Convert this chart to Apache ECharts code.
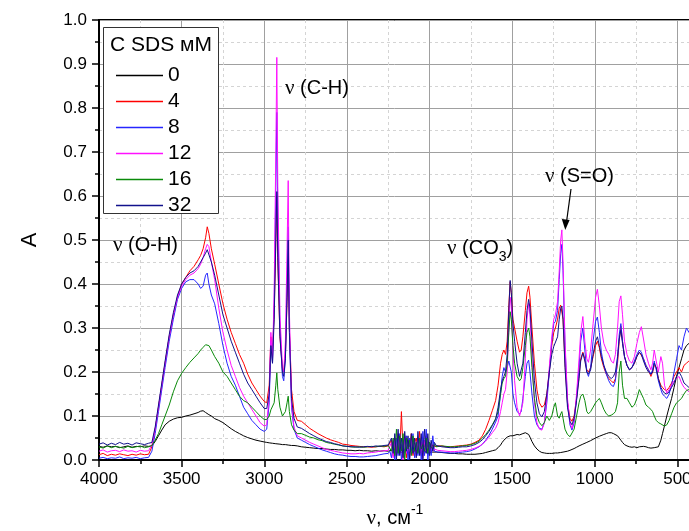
<!DOCTYPE html>
<html><head><meta charset="utf-8">
<script src="https://cdn.jsdelivr.net/npm/echarts@6/dist/echarts.min.js"></script>
<style>html,body{margin:0;padding:0;background:#fff}#c{width:689px;height:531px}</style>
</head><body><div id="c"></div>
<script>
// Wavenumber grid (cm^-1)
const nu = [
 4000,3975,3950,3925,3900,3875,3850,3825,3800,3775,3750,3725,3700,
 3680,3660,3640,3620,3600,3575,3550,3525, 3500,3475,3450,3425,3400,3385,3370,3355,
 3345,3335,3320,3300,3275,3250,3225,3200, 3175,3150,3125,3100,3075,3050,3025,3000,
 2985,2970,2960,2950,2940,2930,2924,2918,2905,2890,2882,2872,2862,2855,2848,2835,2820,2800,
 2775,2750,2725,2700,2675,2650,2625,2600,2575,2550,2525,2500,2475,2450,2425,2400,2375,2350,2325,2300,2275,2250,
 2240,2230,2220,2210,2200,2190,2180,2170,2160,2150, 2140,2130,2120,2110,2100,2090,2080,2070,2060,2050,
 2040,2030,2020,2010,2000,1990,1980,1970,1960,1950,
 1925,1900,1875,1850,1825,1800,1775,1750,1725,1700,1680,1660,1640,1620,1600,
 1585,1570,1560,1550,1540,1530,1520,1512,1505,1495,
 1485,1470,1455,1445,1435,1420,1410,1400,1392,1380,
 1365,1350,1335,1320,1305,1290,1275,1260,1248,1238,
 1225,1215,1206,1199,1192,1180,1165,1150,1138,1125,
 1110,1095,1085,1072,1060,1048,1038,1025,1010,995,
 984,972,960,945,930,915,900,887,875,862,
 852,842,832,820,805,790,775,760,745,730,
 718,705,690,675,660,650,640,628,615,600,
 590,578,564,550,535,520,505,490,475,460,
 445,430,415,400
];

// C SDS = 0 mM (black)
const sds0 = [
 .031,.029,.032,.030,.031,.028,.030,.032,.029,.031,.030,.032,.031,
 .032,.042,.055,.068,.08,.088,.093,.096, .097,.10,.102,.105,.108,.111,.112,.108,
 .106,.103,.10,.094,.09,.085,.078,.071, .065,.06,.055,.051,.048,.045,.043,.041,
 .04,.039,.038,.038,.037,.037,.036,.036,.036,.035,.035,.035,.034,.034,.034,.033,.033,.032,
 .03,.029,.028,.027,.026,.026,.025,.024,.024,.023,.023,.022,.022,.021,.022,.021,.021,.02,.021,.02,.021,.02,
 .02,.022,.018,.025,.015,.024,.019,.022,.016,.025, .018,.021,.017,.023,.019,.02,.018,.022,.017,.021,
 .02,.019,.018,.02,.017,.019,.018,.017,.018,.017,
 .017,.016,.015,.015,.014,.014,.013,.013,.013,.014,.015,.017,.019,.021,.023,
 .028,.034,.04,.045,.048,.052,.054,.055,.056,.055,
 .056,.058,.057,.058,.06,.062,.063,.058,.052,.042,
 .032,.025,.02,.017,.016,.015,.015,.015,.016,.016,
 .016,.017,.017,.018,.018,.019,.02,.022,.024,.026,
 .029,.032,.034,.036,.038,.04,.042,.044,.047,.05,
 .052,.054,.056,.058,.06,.062,.062,.06,.058,.055,
 .05,.045,.04,.035,.032,.03,.029,.03,.028,.03,
 .029,.031,.03,.028,.027,.028,.028,.028,.03,.045,
 .06,.078,.1,.12,.14,.165,.19,.21,.23,.25,
 .26,.265,.27,.27
];

// C SDS = 4 mM (red)
const sds4 = [
 .012,.015,.010,.013,.011,.014,.012,.010,.013,.011,.014,.012,.013,
 .03,.07,.12,.17,.22,.28,.33,.37, .40,.415,.43,.44,.455,.465,.48,.505,
 .53,.515,.48,.445,.40,.355,.32,.29, .265,.24,.22,.195,.175,.16,.145,.133,
 .13,.17,.28,.25,.33,.50,.60,.45,.28,.21,.20,.24,.36,.45,.30,.16,.11,.09,
 .088,.08,.072,.066,.06,.055,.05,.046,.043,.04,.036,.035,.033,.032,.031,.03,.03,.029,.03,.031,.03,.032,
 .03,.045,.01,.05,.02,.06,.015,.11,.02,.055, .005,.045,.03,.06,.01,.04,.05,.02,.065,.01,
 .045,.03,.055,.02,.04,.025,.035,.03,.03,.032,
 .032,.03,.03,.031,.032,.033,.034,.036,.04,.045,.055,.07,.09,.112,.135,
 .17,.22,.24,.25,.24,.27,.35,.405,.38,.32,
 .30,.27,.245,.25,.28,.34,.38,.395,.37,.30,
 .22,.16,.13,.12,.125,.15,.20,.26,.29,.30,
 .32,.345,.352,.35,.32,.22,.13,.095,.088,.10,
 .14,.19,.23,.245,.23,.205,.20,.21,.235,.26,
 .27,.255,.23,.21,.195,.185,.18,.175,.185,.22,
 .27,.305,.27,.235,.215,.205,.21,.22,.235,.245,
 .245,.23,.215,.205,.19,.2,.215,.21,.185,.17,
 .165,.16,.158,.165,.175,.19,.2,.21,.2,.215,
 .22,.225,.23,.235
];

// C SDS = 8 mM (blue)
const sds8 = [
 .004,.006,.003,.005,.004,.007,.003,.005,.004,.006,.003,.005,.006,
 .02,.06,.11,.16,.21,.27,.32,.365, .39,.405,.41,.41,.40,.39,.395,.42,
 .425,.40,.375,.355,.31,.26,.22,.19, .17,.145,.12,.105,.09,.08,.07,.065,
 .07,.13,.27,.22,.35,.62,.79,.55,.30,.19,.18,.23,.40,.53,.30,.12,.07,.05,
 .045,.04,.035,.031,.027,.023,.02,.017,.014,.012,.011,.009,.008,.008,.007,.007,.008,.009,.01,.012,.014,.015,
 .02,.005,.04,.0,.05,.01,.06,.0,.045,.015, .055,.0,.05,.02,.06,.005,.04,.01,.05,.0,
 .065,.01,.07,.0,.04,.01,.055,.02,.02,.018,
 .018,.017,.016,.016,.017,.018,.019,.021,.025,.03,.036,.045,.056,.07,.086,
 .10,.15,.19,.21,.20,.21,.225,.227,.2,.15,
 .13,.11,.105,.11,.14,.19,.22,.227,.2,.15,
 .10,.08,.072,.07,.085,.13,.2,.27,.31,.315,
 .34,.41,.47,.49,.43,.26,.13,.08,.068,.085,
 .14,.21,.27,.30,.25,.2,.19,.21,.27,.315,
 .325,.29,.245,.215,.195,.18,.17,.167,.18,.23,
 .285,.31,.27,.235,.215,.205,.21,.225,.24,.25,
 .245,.23,.215,.205,.195,.205,.225,.205,.18,.16,
 .15,.145,.14,.15,.17,.2,.23,.26,.25,.28,
 .30,.29,.31,.30
];

// C SDS = 12 mM (magenta)
const sds12 = [
 .020,.023,.018,.021,.022,.019,.023,.020,.021,.018,.022,.020,.021,
 .035,.07,.12,.17,.22,.28,.33,.37, .395,.41,.42,.425,.435,.445,.46,.48,
 .49,.485,.45,.41,.345,.29,.25,.215, .19,.165,.145,.13,.115,.10,.085,.077,
 .08,.15,.29,.23,.38,.70,.915,.62,.33,.21,.20,.27,.48,.635,.34,.13,.075,.055,
 .05,.045,.04,.036,.032,.028,.024,.022,.02,.018,.016,.015,.014,.014,.015,.014,.016,.017,.018,.02,.021,.022,
 .025,.04,.005,.045,.01,.05,.02,.035,.0,.05, .015,.04,.005,.045,.02,.035,.01,.05,.015,.04,
 .005,.045,.02,.03,.015,.035,.02,.025,.022,.022,
 .021,.02,.019,.019,.02,.021,.022,.024,.027,.031,.036,.043,.052,.062,.072,
 .085,.11,.13,.15,.16,.2,.3,.37,.35,.25,
 .18,.12,.10,.10,.13,.23,.32,.356,.33,.23,
 .13,.085,.07,.068,.085,.14,.21,.28,.32,.33,
 .36,.43,.50,.523,.45,.27,.14,.085,.072,.09,
 .15,.23,.29,.326,.27,.23,.222,.25,.31,.37,
 .388,.35,.30,.265,.25,.24,.225,.22,.24,.30,
 .36,.373,.33,.27,.24,.225,.22,.235,.265,.29,
 .303,.275,.24,.22,.205,.22,.25,.225,.20,.235,
 .22,.17,.152,.16,.17,.18,.185,.19,.175,.165,
 .16,.155,.15,.15
];

// C SDS = 16 mM (green)
const sds16 = [
 .030,.027,.032,.028,.031,.029,.027,.031,.028,.030,.032,.028,.030,
 .033,.045,.06,.08,.10,.125,.155,.18, .197,.21,.222,.232,.242,.25,.256,.262,
 .264,.26,.25,.235,.22,.20,.19,.175, .16,.145,.135,.13,.12,.11,.10,.092,
 .092,.10,.114,.11,.13,.17,.198,.16,.12,.10,.098,.11,.13,.145,.11,.08,.068,.06,
 .06,.056,.052,.05,.046,.044,.04,.038,.036,.034,.032,.031,.03,.029,.03,.029,.03,.031,.03,.032,.031,.033,
 .035,.02,.05,.01,.07,.015,.055,.02,.06,.0, .05,.025,.045,.01,.055,.02,.04,.015,.05,.025,
 .035,.02,.05,.015,.04,.03,.025,.035,.03,.032,
 .032,.031,.03,.03,.031,.032,.033,.035,.038,.043,.05,.058,.068,.08,.094,
 .11,.15,.175,.185,.19,.22,.29,.337,.32,.26,
 .22,.19,.18,.185,.21,.26,.29,.30,.28,.21,
 .14,.10,.085,.078,.085,.10,.09,.10,.12,.13,
 .10,.095,.105,.11,.095,.07,.058,.053,.055,.07,
 .10,.13,.145,.15,.135,.11,.105,.11,.12,.13,
 .135,.14,.13,.115,.105,.10,.102,.105,.11,.13,
 .20,.225,.17,.14,.14,.13,.12,.125,.14,.16,
 .158,.14,.125,.12,.115,.11,.10,.09,.085,.082,
 .078,.077,.08,.09,.105,.12,.13,.135,.14,.15,
 .158,.16,.16,.16
];

// C SDS = 32 mM (navy)
const sds32 = [
 .036,.039,.034,.038,.035,.040,.036,.038,.034,.039,.037,.035,.038,
 .04,.075,.125,.175,.225,.285,.335,.375, .40,.415,.425,.43,.44,.45,.46,.47,
 .478,.475,.45,.42,.375,.33,.30,.27, .245,.22,.195,.175,.16,.145,.13,.117,
 .117,.15,.26,.22,.32,.50,.61,.46,.28,.20,.19,.23,.37,.50,.29,.14,.095,.075,
 .072,.066,.06,.055,.05,.046,.042,.04,.037,.035,.032,.031,.03,.03,.029,.03,.031,.03,.032,.031,.033,.034,
 .03,.05,.015,.06,.0,.07,.01,.05,.005,.065, .02,.055,.0,.06,.015,.05,.005,.065,.01,.06,
 .0,.07,.015,.06,.01,.045,.02,.04,.033,.032,
 .03,.029,.028,.028,.029,.03,.03,.032,.035,.04,.046,.055,.065,.078,.092,
 .12,.16,.18,.19,.20,.24,.34,.408,.38,.31,
 .27,.22,.19,.19,.22,.29,.34,.365,.345,.27,
 .18,.13,.105,.098,.11,.15,.20,.24,.258,.255,
 .28,.32,.345,.35,.32,.21,.12,.088,.08,.095,
 .135,.185,.225,.243,.225,.2,.195,.205,.24,.27,
 .28,.26,.235,.215,.2,.19,.185,.19,.2,.235,
 .275,.295,.265,.235,.215,.205,.21,.22,.235,.245,
 .24,.225,.21,.2,.195,.2,.22,.21,.185,.165,
 .158,.152,.15,.155,.165,.175,.19,.2,.19,.175,
 .17,.165,.17,.17
];

const seriesNames = ['0','4','8','12','16','32'];
const seriesValues = [sds0, sds4, sds8, sds12, sds16, sds32];
const seriesColors = ['#000000','#ff0000','#2626ff','#ff10ff','#0a8a0a','#12128c'];

const SANS = '"Liberation Sans", Arial, sans-serif';
const SERIF = '"Liberation Serif", "Times New Roman", serif';

const mctx = document.createElement('canvas').getContext('2d');
function tw(t, size, fam){ mctx.font = size + 'px ' + fam; return mctx.measureText(t).width; }

function run(x, yc, parts, z){
  const els = []; let cx = x;
  parts.forEach(p => {
    els.push({type:'text', x: cx, y: yc + (p.dy||0), z: z||10,
      style:{text:p.t, fontSize:p.s, fontFamily:p.f, fill:'#000', align:'left', verticalAlign:'middle'}});
    cx += tw(p.t, p.s, p.f);
  });
  return els;
}
function runWidth(parts){ return parts.reduce((a,p)=>a+tw(p.t,p.s,p.f),0); }

const graphics = [];
graphics.push({type:'rect', z:3, shape:{x:103.5, y:27.5, width:115, height:186},
  style:{fill:'#fff', stroke:'#333', lineWidth:1}});
graphics.push({type:'text', z:10, x:110, y:45,
  style:{text:'C SDS мМ', fontSize:21, fontFamily:SANS, fill:'#000', verticalAlign:'middle'}});
const nuPart = {t:'ν', s:21, f:SERIF};
graphics.push(...run(113, 245, [nuPart, {t:' (O-H)', s:20, f:SANS}]));
graphics.push(...run(285, 88, [nuPart, {t:' (C-H)', s:20, f:SANS}]));
graphics.push(...run(447, 248, [nuPart, {t:' (CO', s:20, f:SANS}, {t:'3', s:14, f:SANS, dy:9}, {t:')', s:20, f:SANS}]));
graphics.push(...run(545, 176, [nuPart, {t:' (S=O)', s:20, f:SANS}]));
graphics.push({type:'line', z:10, shape:{x1:571, y1:189, x2:566.5, y2:222}, style:{stroke:'#000', lineWidth:1.2}});
graphics.push({type:'polygon', z:10, shape:{points:[[565.3,230],[561.8,219],[569.6,220]]}, style:{fill:'#000'}});
const xt = [{t:'ν', s:21, f:SERIF}, {t:', см', s:20, f:SANS}, {t:'-1', s:14, f:SANS, dy:-8}];
graphics.push(...run(395 - runWidth(xt)/2, 518, xt));

const series = seriesValues.map((vals, k) => ({
  name: seriesNames[k], type:'line', symbol:'none', showSymbol:false, z: 2,
  lineStyle:{color:seriesColors[k], width:1}, itemStyle:{color:seriesColors[k]},
  data: nu.map((x,i) => [x, vals[i]]), animation:false, clip:true
}));

seriesValues.forEach((v,k)=>{ if (v.length !== nu.length) graphics.push({type:'text', x:300, y:100+k*20, z:20, style:{text:'LEN '+seriesNames[k]+' '+v.length+'/'+nu.length, fill:'#f00', fontSize:14}}); });

const chart = echarts.init(document.getElementById('c'), null, {renderer:'canvas'});
chart.setOption({
  animation:false,
  backgroundColor:'#fff',
  grid:{left:99, top:20, width:661, height:440, show:true, borderColor:'#000', borderWidth:2,
    backgroundColor:'transparent', containLabel:false, outerBoundsMode:'none'},
  xAxis:{type:'value', inverse:true, min:0, max:4000, interval:500,
    axisLine:{show:true, onZero:false, lineStyle:{color:'#000', width:2}},
    axisTick:{show:true, length:7, lineStyle:{color:'#000', width:1.5}},
    minorTick:{show:true, splitNumber:2, length:4, lineStyle:{color:'#000', width:1.5}},
    axisLabel:{fontSize:17, fontFamily:SANS, color:'#000', margin:11, formatter:v=>String(v)},
    splitLine:{show:true, lineStyle:{color:'#a0a0a0', width:1}},
    minorSplitLine:{show:true, lineStyle:{color:'#d4d4d4', width:1, type:[3,3]}}},
  yAxis:{type:'value', min:0, max:1, interval:0.1,
    name:'A', nameLocation:'middle', nameGap:58, nameRotate:90,
    nameTextStyle:{fontSize:22, fontFamily:SANS, color:'#000'},
    axisLine:{show:true, onZero:false, lineStyle:{color:'#000', width:2}},
    axisTick:{show:true, length:7, lineStyle:{color:'#000', width:1.5}},
    minorTick:{show:true, splitNumber:2, length:4, lineStyle:{color:'#000', width:1.5}},
    axisLabel:{fontSize:17, fontFamily:SANS, color:'#000', margin:12, formatter:v=>v.toFixed(1)},
    splitLine:{show:true, lineStyle:{color:'#a0a0a0', width:1}},
    minorSplitLine:{show:true, lineStyle:{color:'#d4d4d4', width:1, type:[3,3]}}},
  legend:{orient:'vertical', left:111, top:60, itemWidth:47, itemHeight:1.5, itemGap:5, z:8,
    icon:'rect', selectedMode:false, data:seriesNames,
    textStyle:{fontSize:21, fontFamily:SANS, color:'#000', lineHeight:21}},
  graphic: graphics,
  series: series
});
</script></body></html>
